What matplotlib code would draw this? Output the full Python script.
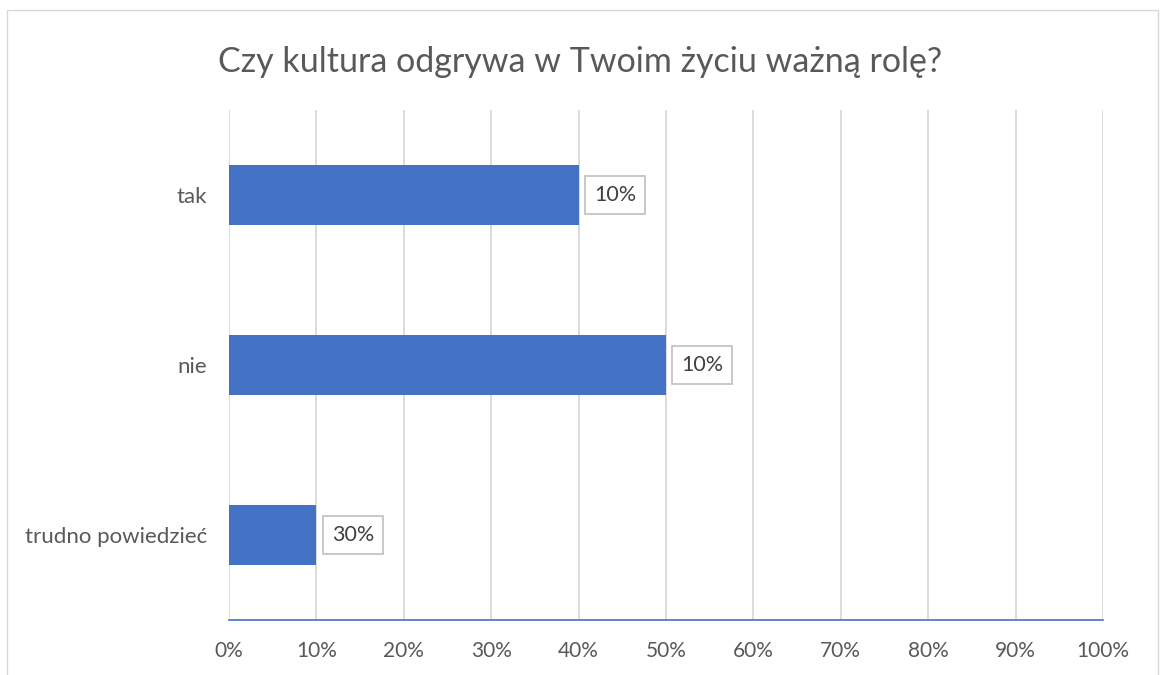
import matplotlib
matplotlib.use("Agg")
import matplotlib.pyplot as plt
from matplotlib.patches import Rectangle
from matplotlib.ticker import FuncFormatter

plt.rcParams['font.family'] = ['Lato', 'DejaVu Sans']

categories = ["tak", "nie", "trudno powiedzieć"]
values = [0.40, 0.50, 0.10]
data_labels = ["10%", "10%", "30%"]
xticks = [i / 10 for i in range(11)]

BAR = "#4472C4"
GRID = "#D9D9D9"
TXT = "#595959"

fig = plt.figure(figsize=(11.6, 6.75), dpi=100)
fig.patch.set_facecolor("white")
# outer chart border
fig.patches.append(Rectangle((7/1160, -0.01), (1158-7)/1160, 1 - 10/675 + 0.01,
                             transform=fig.transFigure, fill=False,
                             edgecolor="#D9D9D9", linewidth=1.0))

ax = fig.add_axes([229/1160, 1 - 620/675, (1103-229)/1160, (620-110)/675])
y = list(range(len(categories)))[::-1]
ax.barh(y, values, height=0.353, color=BAR, zorder=3)
ax.set_xlim(0, 1)
ax.set_ylim(-0.5, len(categories) - 0.5)
ax.set_xticks(xticks)
ax.xaxis.set_major_formatter(FuncFormatter(lambda v, p: f"{round(v*100)}%"))
ax.set_yticks(y)
ax.set_yticklabels(categories)
ax.tick_params(axis="x", length=0, labelsize=15, labelcolor=TXT, pad=15)
ax.tick_params(axis="y", length=0, labelsize=16, labelcolor=TXT, pad=16)
ax.grid(axis="x", color=GRID, linewidth=1.3, zorder=0)
for s in ["top", "right", "left"]:
    ax.spines[s].set_visible(False)
ax.spines["bottom"].set_color(BAR)
ax.spines["bottom"].set_linewidth(1.2)

for yi, v, lab in zip(y, values, data_labels):
    ax.annotate(lab, xy=(v, yi), xytext=(11, 0), textcoords="offset points",
                ha="left", va="center", fontsize=15.5, color="#404040", zorder=4,
                bbox=dict(boxstyle="square,pad=0.42", facecolor="white",
                          edgecolor="#BFBFBF", linewidth=1.2))

fig.text(0.5, 1 - 62/675, "Czy kultura odgrywa w Twoim życiu ważną rolę?",
         ha="center", va="center", fontsize=24.5, color=TXT)

fig.savefig("out.png", dpi=100)
